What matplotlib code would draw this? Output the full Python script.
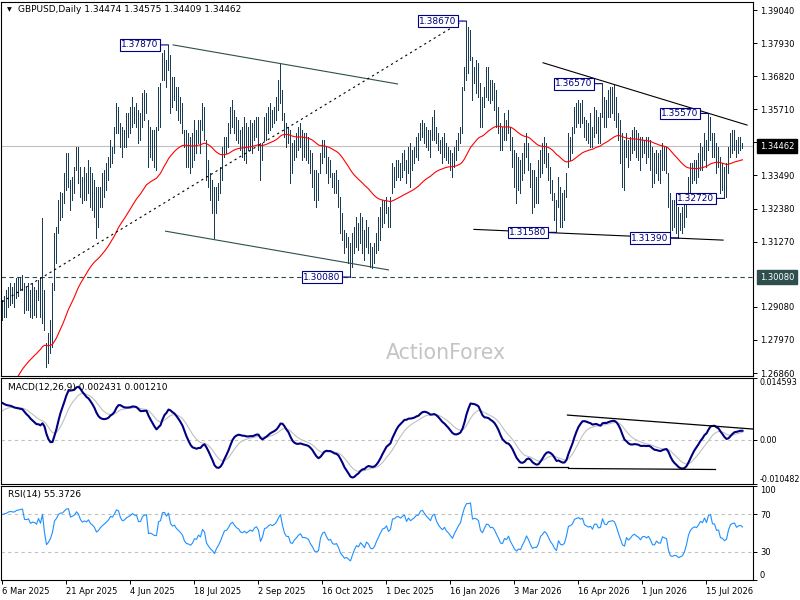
import numpy as np
import matplotlib
matplotlib.use("Agg")
import matplotlib.pyplot as plt

W, H = 800, 600

# daily bars, first bar = 6 Mar 2025
high = [
    1.2931, 1.2945, 1.2965, 1.2975, 1.2988, 1.2975, 1.2988, 1.3005, 1.3008, 1.3008,
    1.3015, 1.2988, 1.2975, 1.2988, 1.2965, 1.2988, 1.2975, 1.2965, 1.2998, 1.3008,
    1.3206, 1.2965, 1.2787, 1.2820, 1.2864, 1.2988, 1.3156, 1.3176, 1.3267, 1.3293,
    1.3290, 1.3357, 1.3424, 1.3424, 1.3334, 1.3344, 1.3377, 1.3444, 1.3444, 1.3377,
    1.3344, 1.3377, 1.3357, 1.3401, 1.3377, 1.3357, 1.3334, 1.3310, 1.3310, 1.3310,
    1.3357, 1.3367, 1.3391, 1.3411, 1.3468, 1.3444, 1.3511, 1.3592, 1.3579, 1.3525,
    1.3511, 1.3501, 1.3558, 1.3558, 1.3579, 1.3612, 1.3579, 1.3592, 1.3569, 1.3558,
    1.3626, 1.3636, 1.3626, 1.3535, 1.3511, 1.3501, 1.3501, 1.3511, 1.3646, 1.3659,
    1.3760, 1.3770, 1.3736, 1.3787, 1.3753, 1.3679, 1.3679, 1.3646, 1.3646, 1.3612,
    1.3592, 1.3501, 1.3501, 1.3491, 1.3478, 1.3491, 1.3535, 1.3501, 1.3535, 1.3535,
    1.3592, 1.3579, 1.3468, 1.3401, 1.3357, 1.3334, 1.3310, 1.3310, 1.3324, 1.3377,
    1.3444, 1.3478, 1.3478, 1.3525, 1.3579, 1.3602, 1.3569, 1.3545, 1.3535, 1.3501,
    1.3511, 1.3545, 1.3525, 1.3511, 1.3535, 1.3525, 1.3535, 1.3545, 1.3545, 1.3458,
    1.3458, 1.3545, 1.3558, 1.3579, 1.3592, 1.3569, 1.3579, 1.3612, 1.3669, 1.3726,
    1.3636, 1.3558, 1.3525, 1.3511, 1.3501, 1.3458, 1.3468, 1.3491, 1.3511, 1.3525,
    1.3501, 1.3491, 1.3491, 1.3478, 1.3434, 1.3424, 1.3367, 1.3367, 1.3357, 1.3424,
    1.3468, 1.3468, 1.3444, 1.3411, 1.3401, 1.3357, 1.3357, 1.3367, 1.3334, 1.3277,
    1.3223, 1.3166, 1.3156, 1.3142, 1.3122, 1.3156, 1.3176, 1.3210, 1.3189, 1.3223,
    1.3210, 1.3166, 1.3199, 1.3176, 1.3122, 1.3109, 1.3122, 1.3156, 1.3210, 1.3243,
    1.3267, 1.3267, 1.3277, 1.3243, 1.3277, 1.3391, 1.3377, 1.3401, 1.3401, 1.3391,
    1.3424, 1.3434, 1.3401, 1.3444, 1.3458, 1.3434, 1.3444, 1.3478, 1.3491, 1.3525,
    1.3535, 1.3525, 1.3511, 1.3501, 1.3501, 1.3545, 1.3569, 1.3511, 1.3491, 1.3468,
    1.3478, 1.3491, 1.3458, 1.3444, 1.3434, 1.3424, 1.3444, 1.3468, 1.3491, 1.3511,
    1.3646, 1.3713, 1.3867, 1.3847, 1.3837, 1.3746, 1.3713, 1.3736, 1.3726, 1.3659,
    1.3612, 1.3646, 1.3713, 1.3713, 1.3669, 1.3669, 1.3659, 1.3636, 1.3579, 1.3525,
    1.3511, 1.3558, 1.3535, 1.3569, 1.3511, 1.3478, 1.3434, 1.3424, 1.3411, 1.3401,
    1.3424, 1.3458, 1.3491, 1.3458, 1.3391, 1.3367, 1.3367, 1.3344, 1.3401, 1.3434,
    1.3458, 1.3478, 1.3458, 1.3424, 1.3377, 1.3334, 1.3290, 1.3267, 1.3344, 1.3310,
    1.3290, 1.3300, 1.3357, 1.3491, 1.3478, 1.3511, 1.3579, 1.3592, 1.3602, 1.3592,
    1.3602, 1.3545, 1.3535, 1.3525, 1.3558, 1.3511, 1.3579, 1.3569, 1.3545, 1.3558,
    1.3657, 1.3612, 1.3602, 1.3636, 1.3646, 1.3646, 1.3652, 1.3612, 1.3558, 1.3535,
    1.3491, 1.3468, 1.3491, 1.3468, 1.3478, 1.3501, 1.3511, 1.3501, 1.3491, 1.3478,
    1.3478, 1.3468, 1.3478, 1.3478, 1.3468, 1.3444, 1.3424, 1.3434, 1.3424, 1.3434,
    1.3458, 1.3444, 1.3444, 1.3357, 1.3290, 1.3267, 1.3267, 1.3277, 1.3243, 1.3223,
    1.3243, 1.3256, 1.3290, 1.3344, 1.3391, 1.3391, 1.3401, 1.3401, 1.3424, 1.3458,
    1.3444, 1.3491, 1.3468, 1.3557, 1.3545, 1.3491, 1.3491, 1.3458, 1.3444, 1.3411,
    1.3391, 1.3377, 1.3391, 1.3444, 1.3491, 1.3501, 1.3501, 1.3468, 1.3478, 1.3478,
    1.34575,
]
low = [
    1.2864, 1.2874, 1.2874, 1.2908, 1.2914, 1.2921, 1.2908, 1.2938, 1.2945, 1.2965,
    1.2965, 1.2887, 1.2898, 1.2898, 1.2874, 1.2871, 1.2881, 1.2874, 1.2931, 1.2874,
    1.2854, 1.2830, 1.2706, 1.2720, 1.2753, 1.2773, 1.2965, 1.3055, 1.3156, 1.3199,
    1.3210, 1.3256, 1.3300, 1.3310, 1.3233, 1.3267, 1.3290, 1.3367, 1.3324, 1.3277,
    1.3256, 1.3267, 1.3267, 1.3290, 1.3243, 1.3233, 1.3210, 1.3139, 1.3176, 1.3243,
    1.3243, 1.3277, 1.3300, 1.3334, 1.3377, 1.3391, 1.3424, 1.3491, 1.3491, 1.3444,
    1.3411, 1.3444, 1.3444, 1.3478, 1.3491, 1.3511, 1.3525, 1.3511, 1.3458, 1.3468,
    1.3511, 1.3535, 1.3558, 1.3377, 1.3411, 1.3401, 1.3377, 1.3367, 1.3501, 1.3511,
    1.3669, 1.3669, 1.3646, 1.3703, 1.3558, 1.3579, 1.3602, 1.3569, 1.3535, 1.3525,
    1.3491, 1.3444, 1.3377, 1.3377, 1.3357, 1.3377, 1.3401, 1.3424, 1.3458, 1.3424,
    1.3501, 1.3468, 1.3334, 1.3310, 1.3267, 1.3223, 1.3139, 1.3223, 1.3267, 1.3290,
    1.3334, 1.3411, 1.3424, 1.3444, 1.3491, 1.3511, 1.3491, 1.3468, 1.3458, 1.3434,
    1.3411, 1.3401, 1.3391, 1.3434, 1.3434, 1.3424, 1.3468, 1.3478, 1.3434, 1.3334,
    1.3401, 1.3468, 1.3468, 1.3491, 1.3501, 1.3511, 1.3525, 1.3535, 1.3569, 1.3592,
    1.3535, 1.3478, 1.3444, 1.3458, 1.3324, 1.3357, 1.3401, 1.3411, 1.3434, 1.3444,
    1.3401, 1.3411, 1.3401, 1.3391, 1.3357, 1.3310, 1.3267, 1.3243, 1.3267, 1.3357,
    1.3391, 1.3411, 1.3357, 1.3324, 1.3344, 1.3310, 1.3290, 1.3290, 1.3243, 1.3156,
    1.3132, 1.3089, 1.3109, 1.3055, 1.3008, 1.3042, 1.3089, 1.3109, 1.3099, 1.3122,
    1.3089, 1.3065, 1.3109, 1.3089, 1.3042, 1.3038, 1.3055, 1.3089, 1.3099, 1.3132,
    1.3176, 1.3189, 1.3223, 1.3176, 1.3176, 1.3290, 1.3310, 1.3334, 1.3344, 1.3334,
    1.3344, 1.3367, 1.3324, 1.3357, 1.3310, 1.3367, 1.3391, 1.3411, 1.3401, 1.3468,
    1.3478, 1.3458, 1.3444, 1.3434, 1.3411, 1.3468, 1.3468, 1.3458, 1.3434, 1.3424,
    1.3391, 1.3411, 1.3401, 1.3391, 1.3367, 1.3344, 1.3377, 1.3401, 1.3434, 1.3458,
    1.3491, 1.3636, 1.3669, 1.3693, 1.3736, 1.3602, 1.3659, 1.3626, 1.3612, 1.3511,
    1.3511, 1.3579, 1.3612, 1.3602, 1.3592, 1.3602, 1.3569, 1.3511, 1.3491, 1.3434,
    1.3434, 1.3468, 1.3468, 1.3491, 1.3434, 1.3377, 1.3310, 1.3256, 1.3300, 1.3290,
    1.3334, 1.3357, 1.3411, 1.3367, 1.3310, 1.3223, 1.3243, 1.3256, 1.3256, 1.3344,
    1.3357, 1.3391, 1.3377, 1.3334, 1.3290, 1.3267, 1.3199, 1.3158, 1.3243, 1.3176,
    1.3176, 1.3199, 1.3277, 1.3377, 1.3401, 1.3424, 1.3491, 1.3511, 1.3525, 1.3511,
    1.3525, 1.3478, 1.3468, 1.3458, 1.3444, 1.3444, 1.3478, 1.3491, 1.3458, 1.3458,
    1.3545, 1.3511, 1.3511, 1.3545, 1.3545, 1.3558, 1.3535, 1.3511, 1.3468, 1.3391,
    1.3310, 1.3300, 1.3411, 1.3377, 1.3401, 1.3424, 1.3434, 1.3411, 1.3401, 1.3367,
    1.3411, 1.3424, 1.3391, 1.3411, 1.3367, 1.3310, 1.3324, 1.3357, 1.3334, 1.3324,
    1.3367, 1.3367, 1.3357, 1.3243, 1.3156, 1.3166, 1.3176, 1.3156, 1.3139, 1.3166,
    1.3156, 1.3176, 1.3210, 1.3267, 1.3290, 1.3324, 1.3334, 1.3324, 1.3344, 1.3367,
    1.3367, 1.3401, 1.3377, 1.3434, 1.3468, 1.3411, 1.3411, 1.3357, 1.3377, 1.3290,
    1.3300, 1.3272, 1.3277, 1.3357, 1.3411, 1.3424, 1.3434, 1.3411, 1.3424, 1.3434,
    1.34409,
]
last_open, last_close = 1.34474, 1.34462

# indicator values at the first bar
ema55_start = 1.2575
ema12_start, ema26_start = 1.2855, 1.2765
signal_start = 0.0064
rsi_gain_start, rsi_loss_start = 0.0030, 0.0013

price_ticks = [1.39040, 1.37930, 1.36820, 1.35710, 1.34600, 1.33490,
               1.32380, 1.31270, 1.29080, 1.27970, 1.26860]
date_labels = ["6 Mar 2025", "21 Apr 2025", "4 Jun 2025", "18 Jul 2025",
               "2 Sep 2025", "16 Oct 2025", "1 Dec 2025", "16 Jan 2026",
               "3 Mar 2026", "16 Apr 2026", "1 Jun 2026", "15 Jul 2026"]
date_bars = [0, 32, 64, 96, 128, 160, 192, 224, 256, 288, 320, 352]

# swing labels: (bar index, price)
swings = [(83, 1.37870), (232, 1.38670), (174, 1.30080), (277, 1.31580),
          (300, 1.36570), (353, 1.35570), (361, 1.32720), (338, 1.31390)]

# drawn trendlines: ((bar, price), (bar, price))
channel_top = [(85.3, 1.3787), (197.5, 1.3656)]
channel_bot = [(81.5, 1.3162), (193.0, 1.3032)]
rising_line = [(-0.2, 1.2925), (230.0, 1.3867)]
falling_top = [(270.3, 1.3727), (372.3, 1.3518)]
flat_bottom = [(235.7, 1.3168), (360.3, 1.3132)]
macd_top = [(282.5, 0.00582), (375.5, 0.00251)]
macd_bot = [[(258.0, -0.00649), (283.0, -0.00649)],
            [(283.0, -0.00681), (356.5, -0.00705)]]

support = 1.30080
macd_lim = (-0.010482, 0.014593)


def ema(x, n, start):
    k = 2.0 / (n + 1)
    out, prev = [], start
    for v in x:
        prev = prev + k * (v - prev)
        out.append(prev)
    return np.array(out)


def rsi(x, n, g, l):
    out = []
    for d in np.diff(x, prepend=x[0]):
        g = (g * (n - 1) + max(d, 0)) / n
        l = (l * (n - 1) + max(-d, 0)) / n
        out.append(100 - 100 / (1 + g / l))
    return np.array(out)


hi = np.array(high)
lo = np.array(low)
close = (hi + lo) / 2
close[-1] = last_close
bars = np.arange(len(hi))

ma = ema(close, 55, ema55_start)
macd = ema(close, 12, ema12_start) - ema(close, 26, ema26_start)
signal = ema(macd, 9, signal_start)
rsi14 = rsi(close, 14, rsi_gain_start, rsi_loss_start)

BAR = "#1a3c55"
NAVY = "#000080"
SLATE = "#2f4f4f"
FONT = "DejaVu Sans"

fig = plt.figure(figsize=(W / 100, H / 100), dpi=100)
fig.patch.set_facecolor("white")


def panel(top, bottom):
    ax = fig.add_axes([1 / W, 1 - bottom / H, 752 / W, (bottom - top) / H])
    ax.set_facecolor("white")
    for s in ax.spines.values():
        s.set_linewidth(0.8)
        s.set_color("black")
    ax.set_xlim(-0.75, 375.25)
    ax.yaxis.tick_right()
    ax.tick_params(axis="y", length=3, width=0.7, labelsize=6, pad=2)
    ax.tick_params(axis="x", length=0, labelbottom=False)
    return ax


# ---- price panel
ax = panel(2, 376)
ax.set_ylim(1.2676, 1.3931)
ax.set_yticks(price_ticks)
ax.set_yticklabels([f"{p:.5f}" for p in price_ticks], fontsize=6, family=FONT)

ax.axhline(last_close, color="#c0c0c0", lw=0.8, zorder=1)
ax.axhline(support, color=SLATE, lw=0.8, ls=(0, (4, 3)), zorder=1)
ax.vlines(bars, lo, hi, color=BAR, lw=0.72, antialiased=False, zorder=2)
ax.plot(bars, ma, color="red", lw=0.8, zorder=3)

for pts, col, ls in [(channel_top, SLATE, "-"), (channel_bot, SLATE, "-"),
                     (rising_line, "black", (0, (2, 3))),
                     (falling_top, "black", "-"), (flat_bottom, "black", "-")]:
    (x0, y0), (x1, y1) = pts
    ax.plot([x0, x1], [y0, y1], color=col, lw=0.8, ls=ls, zorder=4)

for b, p in swings:
    ax.annotate(f"{p:.5f}", xy=(b, p), xytext=(-10, 0), textcoords="offset pixels",
                ha="right", va="center", fontsize=6.5, color=NAVY, family=FONT,
                bbox=dict(boxstyle="square,pad=0.15", fc="white", ec=NAVY, lw=0.8),
                arrowprops=dict(arrowstyle="-", color=NAVY, lw=0.8,
                                shrinkA=0, shrinkB=0), zorder=6)

for p, fc in [(last_close, "black"), (support, SLATE)]:
    ax.annotate(f"{p:.5f}", xy=(1, p), xycoords=("axes fraction", "data"),
                xytext=(7, 0), textcoords="offset pixels", ha="left", va="center",
                fontsize=6, color="white", family=FONT, annotation_clip=False,
                bbox=dict(boxstyle="square,pad=0.3", fc=fc, ec=fc), zorder=7)

ax.text(0.5915, 0.062, "ActionForex", transform=ax.transAxes, ha="center",
        va="center", fontsize=14.8, color="#c4c4c4", family=FONT, zorder=1)

fig.text(7 / W, 1 - 10 / H, "\u25bc", fontsize=4.5, va="center", family=FONT)
fig.text(18 / W, 1 - 10 / H,
         f"GBPUSD,Daily {last_open:.5f} {high[-1]:.5f} {low[-1]:.5f} {last_close:.5f}",
         fontsize=6.5, va="center", family=FONT)

# ---- MACD panel
am = panel(378, 484)
am.set_ylim(*macd_lim)
am.axhline(0, color="#c0c0c0", lw=0.8, ls=(0, (3, 3)))
am.plot(bars, signal, color="#c0c0c0", lw=0.8)
am.plot(bars, macd, color=NAVY, lw=1.5)
(x0, y0), (x1, y1) = macd_top
am.plot([x0, x1], [y0, y1], color="black", lw=0.9)
for (x0, y0), (x1, y1) in macd_bot:
    am.plot([x0, x1], [y0, y1], color="black", lw=0.9)
am.set_yticks([macd_lim[1], 0, macd_lim[0]])
am.set_yticklabels([f"{macd_lim[1]:.6f}", "0.00", f"{macd_lim[0]:.6f}"],
                   fontsize=5.8, family=FONT)
labs = am.get_yticklabels()
labs[0].set_va("top")
labs[2].set_va("bottom")
am.text(7 / 752, 0.915, "MACD(12,26,9) 0.002431 0.001210", transform=am.transAxes,
        fontsize=6.5, va="center", family=FONT)

# ---- RSI panel
ar = panel(486, 580)
ar.set_ylim(0, 100)
for lvl in (70, 30):
    ar.axhline(lvl, color="#c0c0c0", lw=0.8, ls=(0, (3, 3)))
ar.plot(bars, rsi14, color="#1e90ff", lw=0.8)
ar.set_yticks([100, 70, 30, 0])
ar.set_yticklabels(["100", "70", "30", "0"], fontsize=6, family=FONT)
labs = ar.get_yticklabels()
labs[0].set_va("top")
labs[3].set_va("bottom")
ar.text(7 / 752, 0.905, "RSI(14) 55.3726", transform=ar.transAxes,
        fontsize=6.5, va="center", family=FONT)

ar.set_xticks(date_bars)
ar.set_xticklabels(date_labels, fontsize=6, ha="left", family=FONT)
ar.tick_params(axis="x", length=3, width=0.7, pad=2, labelbottom=True)

fig.savefig("out.png", dpi=100, facecolor="white")
